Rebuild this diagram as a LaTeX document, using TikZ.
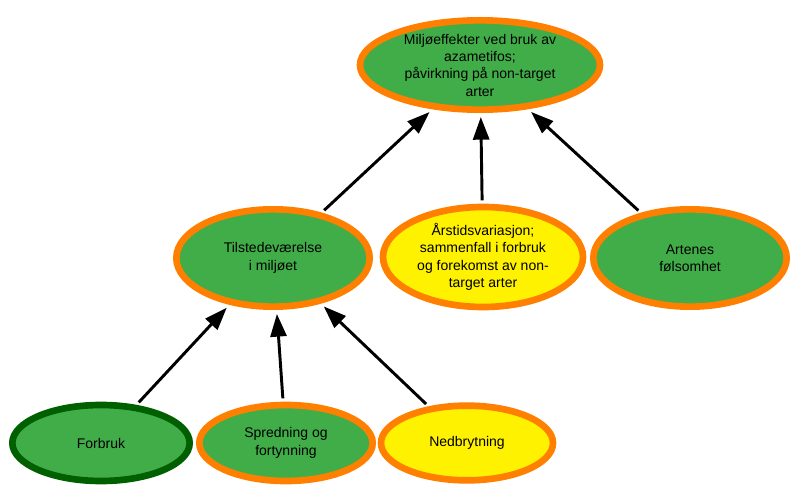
\documentclass[tikz,border=0pt]{standalone}
\usepackage{fontspec}
\setmainfont{Liberation Sans}
\usetikzlibrary{arrows.meta}
\usetikzlibrary{shapes.geometric}
\definecolor{leaf}{HTML}{41AD49}
\definecolor{rim}{HTML}{FF8000}
\definecolor{sun}{HTML}{FFF200}
\definecolor{darkrim}{HTML}{006000}
\tikzset{factor/.style={ellipse, draw=rim, line width=5pt, fill=leaf, inner sep=0pt,
  align=center, font=\fontsize{10.5}{13}\selectfont}}
\tikzset{up/.style={line width=2.2pt, -{Triangle[length=17pt,width=12pt]},
  shorten >=3pt, shorten <=2.5pt}}

\begin{document}
\begin{tikzpicture}[x=0.75pt, y=-0.75pt]
      \useasboundingbox (0, 0) rectangle (800, 499);

      \node [factor, minimum width=180pt, minimum height=67pt] (effekt) at (480, 65) {Miljøeffekter ved bruk av\\azametifos;\\påvirkning på non-target\\arter};

      \node [factor, minimum width=145pt, minimum height=73pt] (tilstede) at (273, 258) {Tilstedeværelse\\i miljøet};
      \node [factor, fill=sun, minimum width=150pt, minimum height=75pt] (arstid) at (483, 257) {Årstidsvariasjon;\\sammenfall i forbruk\\og forekomst av non-\\target arter};
      \node [factor, minimum width=145pt, minimum height=73pt] (folsom) at (690, 258) {Artenes\\følsomhet};

      \node [factor, draw=darkrim, minimum width=133pt, minimum height=57pt] (forbruk) at (101, 443) {Forbruk};
      \node [factor, minimum width=130pt, minimum height=57pt] (spredning) at (286, 443) {Spredning og\\fortynning};
      \node [factor, fill=sun, minimum width=129pt, minimum height=56pt] (nedbryt) at (467, 443) {Nedbrytning};

      \draw [up] (tilstede) -- (effekt);
      \draw [up] (arstid) -- (effekt);
      \draw [up] (folsom) -- (effekt);
      \draw [up] (forbruk) -- (tilstede);
      \draw [up] (spredning) -- (tilstede);
      \draw [up] (nedbryt) -- (tilstede);
    \end{tikzpicture}
\end{document}
